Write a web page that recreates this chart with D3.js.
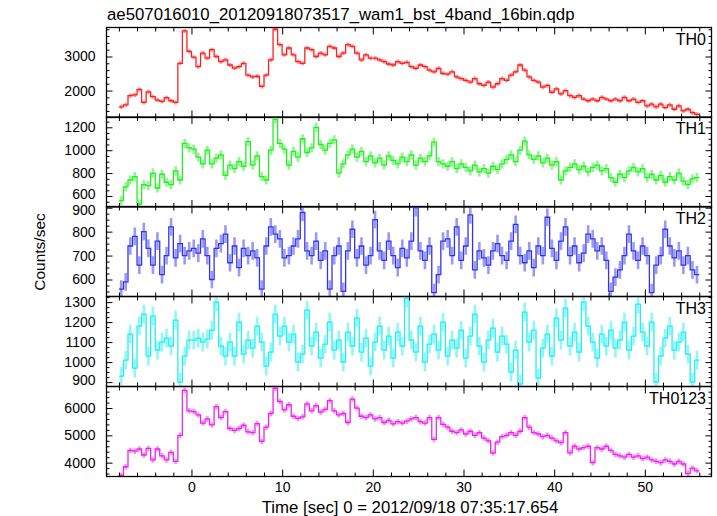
<!DOCTYPE html>
<html><head><meta charset="utf-8">
<script src="https://cdn.jsdelivr.net/npm/d3@7"></script>
<style>
html,body{margin:0;padding:0;background:#fff;}
text{font-family:"Liberation Sans",Arial,Helvetica,sans-serif;}
</style></head>
<body>
<svg id="c" width="717" height="516"></svg>
<script>
const title = "ae507016010_20120918073517_wam1_bst_4band_16bin.qdp";
const xLabel = "Time [sec] 0 = 2012/09/18 07:35:17.654";
const yLabel = "Counts/sec";
const bandNames = ["TH0", "TH1", "TH2", "TH3", "TH0123"];
const bandColors = ["#ff2020", "#22ee22", "#3333ee", "#22eeee", "#ee22ee"];
const tStart = -8.0, binWidth = 0.5;
const xDomain = [-9.37, 57.35];
const xMajorTicks = [0, 10, 20, 30, 40, 50];
const yDomains = [[1208, 3852], [504, 1290], [529, 905], [878, 1328], [3493, 6789]];
const yMajorTicks = [[2000, 3000], [600, 800, 1000, 1200], [600, 700, 800, 900], [900, 1000, 1100, 1200, 1300], [4000, 5000, 6000]];
const yMinorStep = [200, 50, 25, 25, 200];
const errHalf = [60, 40, 37, 47, 100];

const th0 = [
1520,1580,1850,1870,2030,1650,1960,1820,1720,1680,1790,1700,1650,2800,3750,3150,
2980,2700,3100,2950,3200,3000,2850,2900,2750,2660,2700,2800,2450,2400,2420,2120,
2450,2900,3800,3350,3050,3250,3050,2850,2800,3250,3200,3000,3100,3050,3300,3250,
3000,3100,3350,3300,3100,2900,3050,2950,2950,2900,2850,2780,2750,2850,2800,2830,
2700,2650,2750,2700,2600,2550,2650,2500,2480,2550,2400,2350,2300,2250,2350,2200,
2150,2250,2100,2200,2350,2300,2450,2550,2750,2600,2400,2300,2250,2100,2150,1950,
2050,1900,2000,1850,1800,1850,1750,1700,1750,1700,1800,1750,1700,1750,1700,1800,
1700,1750,1650,1700,1550,1600,1520,1600,1500,1580,1450,1550,1400,1450,1350,1300];
const th1 = [
560,680,740,770,530,700,690,800,670,790,720,700,820,740,1060,1020,
1010,940,880,1000,880,930,960,780,870,840,900,860,1075,870,950,770,
740,1000,1270,1060,1010,870,990,940,1100,980,1020,1200,1050,1000,1060,1090,
800,880,960,1010,940,990,900,950,890,930,870,950,910,880,940,900,
960,870,930,900,950,1070,900,880,860,900,840,880,850,820,870,810,
840,800,860,830,880,920,960,900,1000,1080,960,920,950,890,930,870,
900,740,820,850,880,830,860,810,850,870,820,840,760,720,790,760,
820,850,810,840,760,790,740,780,720,770,740,800,730,700,750,760];
const th2 = [
560,590,740,780,660,800,730,660,760,620,700,820,690,750,700,720,
730,710,770,700,600,730,750,790,670,740,650,730,700,720,690,560,
740,820,790,770,690,700,740,770,880,720,700,760,680,720,560,700,
740,550,720,810,690,740,660,700,850,720,680,760,700,650,730,690,
760,900,720,680,740,545,620,760,770,700,820,680,740,870,640,720,
690,660,720,750,700,680,760,830,700,670,720,650,740,700,860,730,
680,760,820,700,740,670,710,790,770,720,740,680,550,610,640,700,
790,720,680,740,700,545,660,700,810,740,690,720,660,700,640,620];
const th3 = [
930,1010,1140,970,1180,1240,1030,1230,1060,1100,1120,1080,1210,900,1030,1110,
1110,1120,1100,1115,1160,1300,1080,1030,1100,1030,1200,1040,1110,1070,1180,1100,
980,1050,1240,1130,1180,1100,1140,1000,1040,1260,1080,1150,1020,1090,1200,1060,
1110,1000,1150,1080,1220,1050,1120,980,1100,1180,1060,1130,1020,1150,1080,1320,
1110,1050,1180,1000,1090,1140,1060,1200,1030,1110,1070,1160,1020,1130,1240,1080,
1000,1110,1170,1050,1130,1090,950,1060,890,1250,1100,1160,920,1070,1140,1030,
1220,1110,1270,1080,1150,1050,1300,1180,1100,1020,1140,1080,1160,1070,1110,1200,
1060,1130,1290,1150,1080,1200,900,1030,1120,1180,1060,1100,1150,1040,900,1010];
const th0123 = [
3530,3850,4450,4420,4500,4280,4520,4100,4500,4250,4100,4380,4050,5000,6650,5900,
5870,5750,5450,5600,5380,6050,5650,5870,5250,5180,5250,5370,5130,5100,5430,4780,
5300,5800,6720,6240,5930,6120,5700,5620,5680,6150,5900,6090,5850,5950,6270,5900,
5750,5800,5470,6330,6000,5700,5650,5750,5600,5650,5470,5550,5420,5500,5450,5520,
5600,5650,5500,5450,5650,4850,5650,5400,5300,5150,5100,5200,5050,5150,5000,5100,
4900,4800,4350,4750,4950,5000,5100,5000,5150,5650,5300,5100,5050,4950,5000,4900,
4800,4730,5100,4360,4600,4500,4550,4600,4000,4550,4500,4600,4450,4300,4250,4200,
4300,4200,4250,4150,4200,4100,4050,4000,4100,4050,3950,4050,3950,3600,3800,3700];
const series = [th0, th1, th2, th3, th0123];

const svg = d3.select("#c");
const L = 106.5, R = 711.5;
const panelTops = [27.5, 117, 206.5, 296.5, 386.5];
const panelH = 90;

const x = d3.scaleLinear().domain(xDomain).range([L, R]);
const xMinor = d3.range(-8, 58, 2).filter(v => v % 10 !== 0);

function styleAxis(g){
  g.select(".domain").remove();
  g.selectAll(".tick line").attr("stroke", "#000").attr("stroke-width", 1);
  g.selectAll(".tick text").attr("fill", "#000").attr("font-size", 14)
    .attr("font-family", "'Liberation Sans',Arial,sans-serif");
}

series.forEach((vals, i) => {
  const top = panelTops[i], bot = top + panelH;
  const y = d3.scaleLinear().domain(yDomains[i]).range([bot, top]);
  const g = svg.append("g");
  const clipId = "clip" + i;
  g.append("clipPath").attr("id", clipId).append("rect")
    .attr("x", L).attr("y", top).attr("width", R - L).attr("height", panelH);

  const pts = vals.map((v, k) => ({t: tStart + binWidth * (k + 0.5), v}));
  const data = g.append("g").attr("clip-path", `url(#${clipId})`);
  data.selectAll("line.err").data(pts).join("line").attr("class", "err")
    .attr("x1", d => x(d.t)).attr("x2", d => x(d.t))
    .attr("y1", d => y(d.v - errHalf[i])).attr("y2", d => y(d.v + errHalf[i]))
    .attr("stroke", bandColors[i]).attr("stroke-opacity", 0.5).attr("stroke-width", 2.6);
  const line = d3.line().x(d => x(d.t)).y(d => y(d.v)).curve(d3.curveStep);
  const ext = [{t: tStart, v: vals[0]}, ...pts, {t: tStart + binWidth * vals.length, v: vals[vals.length - 1]}];
  data.append("path").datum(ext).attr("d", line).attr("fill", "none")
    .attr("stroke", bandColors[i]).attr("stroke-width", 1.3);

  const yMinor = d3.range(Math.ceil(yDomains[i][0] / yMinorStep[i]) * yMinorStep[i], yDomains[i][1], yMinorStep[i])
    .filter(v => !yMajorTicks[i].includes(v));
  const ly = g.append("g").attr("transform", `translate(${L},0)`)
    .call(d3.axisLeft(y).tickValues(yMajorTicks[i]).tickSize(-6).tickPadding(11).tickFormat(d3.format("d"))).call(styleAxis);
  // nudge labels that sit right at a panel edge so neighbouring panels' labels do not collide
  ly.selectAll(".tick text").attr("dy", d => {
    const p = y(d);
    if (p - top < 4) return "0.45em";
    if (bot - p < 12) return "0.2em";
    return "0.32em";
  });
  g.append("g").attr("transform", `translate(${L},0)`)
    .call(d3.axisLeft(y).tickValues(yMinor).tickSize(-3).tickFormat("")).call(styleAxis);
  g.append("g").attr("transform", `translate(${R},0)`)
    .call(d3.axisRight(y).tickValues(yMajorTicks[i]).tickSize(-6).tickFormat("")).call(styleAxis);
  g.append("g").attr("transform", `translate(${R},0)`)
    .call(d3.axisRight(y).tickValues(yMinor).tickSize(-3).tickFormat("")).call(styleAxis);
  g.append("g").attr("transform", `translate(0,${top})`)
    .call(d3.axisTop(x).tickValues(xMajorTicks).tickSize(-7).tickFormat("")).call(styleAxis);
  g.append("g").attr("transform", `translate(0,${top})`)
    .call(d3.axisTop(x).tickValues(xMinor).tickSize(-4).tickFormat("")).call(styleAxis);
  g.append("g").attr("transform", `translate(0,${bot})`)
    .call(d3.axisBottom(x).tickValues(xMajorTicks).tickSize(-7).tickPadding(6)
      .tickFormat(i === series.length - 1 ? d3.format("d") : "")).call(styleAxis);
  g.append("g").attr("transform", `translate(0,${bot})`)
    .call(d3.axisBottom(x).tickValues(xMinor).tickSize(-4).tickFormat("")).call(styleAxis);

  g.append("rect").attr("x", L).attr("y", top).attr("width", R - L).attr("height", panelH)
    .attr("fill", "none").attr("stroke", "#000").attr("stroke-width", 1.3);

  g.append("text").attr("x", 706).attr("y", top + 17).attr("text-anchor", "end")
    .attr("font-size", 16).attr("fill", "#000").text(bandNames[i]);
});

svg.append("text").attr("x", 107).attr("y", 20).attr("font-size", 16.8).attr("fill", "#000").text(title);
svg.append("text").attr("x", 410).attr("y", 513).attr("text-anchor", "middle")
  .attr("font-size", 16.8).attr("fill", "#000").text(xLabel);
svg.append("text").attr("transform", "translate(45,252) rotate(-90)").attr("text-anchor", "middle")
  .attr("font-size", 15.5).attr("fill", "#000").text(yLabel);
</script>
</body></html>
